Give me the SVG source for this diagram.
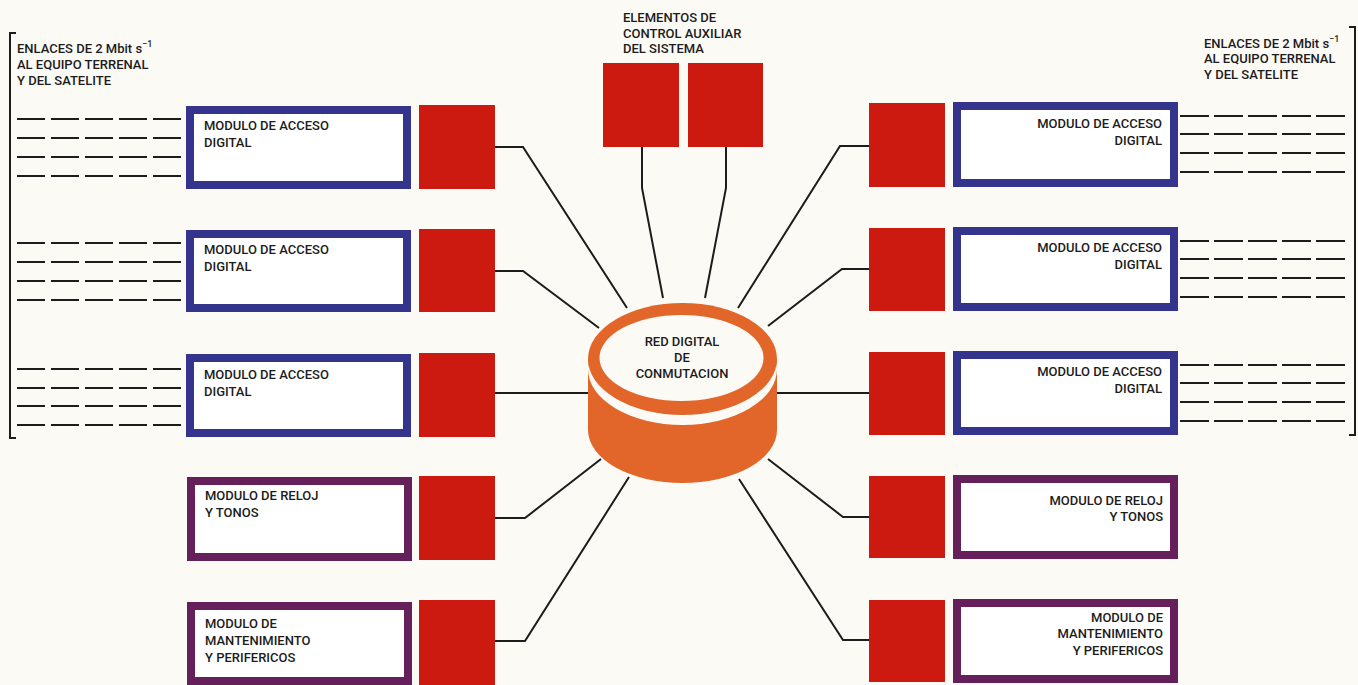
<svg xmlns="http://www.w3.org/2000/svg" width="1358" height="685" viewBox="0 0 1358 685">
  <defs>
    <style>
      .bg { fill: #fbfaf5; }
      .txt { font-family: Roboto, "Liberation Sans", Arial, sans-serif; font-weight: 500; font-size: 13px; fill: #1c1c1c; }
      .sup { font-size: 9px; }
      .end { text-anchor: end; }
      .acc { fill: #ffffff; stroke: #34348c; stroke-width: 8; }
      .aux { fill: #ffffff; stroke: #651f5b; stroke-width: 8; }
      .port { fill: #cc1a10; }
      .wire { fill: none; stroke: #1c1c1c; stroke-width: 2; stroke-linejoin: miter; }
      .link { stroke: #1c1c1c; stroke-width: 2.2; }
      .linkL { stroke-dasharray: 28 6; }
      .linkR { stroke-dasharray: 29 5; }
      .orange { fill: #e2662a; }
    </style>
  </defs>

  <rect class="bg" x="0" y="0" width="1358" height="685"/>

  <!-- headers -->
  <g id="header-left">
    <path class="wire" d="M16,33 H10 V438 H16"/>
    <text class="txt" x="17" y="53">ENLACES DE 2 Mbit s<tspan class="sup" dy="-6">−1</tspan></text>
    <text class="txt" x="17" y="69">AL EQUIPO TERRENAL</text>
    <text class="txt" x="17" y="85">Y DEL SATELITE</text>
  </g>
  <g id="header-right">
    <path class="wire" d="M1349,27 H1355 V435 H1349"/>
    <text class="txt" x="1204" y="48">ENLACES DE 2 Mbit s<tspan class="sup" dy="-6">−1</tspan></text>
    <text class="txt" x="1204" y="63">AL EQUIPO TERRENAL</text>
    <text class="txt" x="1204" y="79">Y DEL SATELITE</text>
  </g>

  <!-- 2 Mbit/s link bundles -->
  <g id="links">
    <g class="link linkL">
      <line x1="17" y1="119" x2="183" y2="119"/>
      <line x1="17" y1="138" x2="183" y2="138"/>
      <line x1="17" y1="157" x2="183" y2="157"/>
      <line x1="17" y1="176" x2="183" y2="176"/>
      <line x1="17" y1="243" x2="183" y2="243"/>
      <line x1="17" y1="262" x2="183" y2="262"/>
      <line x1="17" y1="281" x2="183" y2="281"/>
      <line x1="17" y1="300" x2="183" y2="300"/>
      <line x1="17" y1="369" x2="183" y2="369"/>
      <line x1="17" y1="388" x2="183" y2="388"/>
      <line x1="17" y1="406" x2="183" y2="406"/>
      <line x1="17" y1="425" x2="183" y2="425"/>
    </g>
    <g class="link linkR">
      <line x1="1180" y1="116" x2="1346" y2="116"/>
      <line x1="1180" y1="134" x2="1346" y2="134"/>
      <line x1="1180" y1="153" x2="1346" y2="153"/>
      <line x1="1180" y1="172" x2="1346" y2="172"/>
      <line x1="1180" y1="241" x2="1346" y2="241"/>
      <line x1="1180" y1="259" x2="1346" y2="259"/>
      <line x1="1180" y1="278" x2="1346" y2="278"/>
      <line x1="1180" y1="297" x2="1346" y2="297"/>
      <line x1="1180" y1="365" x2="1346" y2="365"/>
      <line x1="1180" y1="383" x2="1346" y2="383"/>
      <line x1="1180" y1="402" x2="1346" y2="402"/>
      <line x1="1180" y1="421" x2="1346" y2="421"/>
    </g>
  </g>

  <!-- connectors to the switching network -->
  <g id="connectors">
    <path class="wire" d="M495,147 H523 L627,308"/>
    <path class="wire" d="M495,271 H523 L599,328"/>
    <path class="wire" d="M495,393 H590"/>
    <path class="wire" d="M495,518 H525 L601,459"/>
    <path class="wire" d="M495,641 H525 L629,477"/>
    <path class="wire" d="M642,147 V188 L663,298"/>
    <path class="wire" d="M726,147 V188 L705,298"/>
    <path class="wire" d="M869,146 H840 L738,308"/>
    <path class="wire" d="M869,269 H842 L768,326"/>
    <path class="wire" d="M869,393 H775"/>
    <path class="wire" d="M869,517 H843 L768,459"/>
    <path class="wire" d="M869,640 H843 L739,479"/>
  </g>

  <!-- auxiliary control elements -->
  <g id="aux-control">
    <text class="txt" x="623" y="22">ELEMENTOS DE</text>
    <text class="txt" x="623" y="38">CONTROL AUXILIAR</text>
    <text class="txt" x="623" y="53">DEL SISTEMA</text>
    <rect class="port" x="603" y="63" width="76" height="84"/>
    <rect class="port" x="688" y="63" width="75" height="84"/>
  </g>

  <!-- central switching network drum -->
  <g id="red-digital">
    <path class="orange" d="M588,360 V430 A94.5,53 0 0 0 777,430 V360 Z"/>
    <ellipse cx="682.5" cy="369" rx="94.5" ry="56" fill="#fbfaf5"/>
    <ellipse class="orange" cx="682.5" cy="359" rx="94.5" ry="56"/>
    <ellipse cx="681.5" cy="358" rx="82" ry="43" fill="#fbfaf5"/>
    <text class="txt" x="682" y="346" text-anchor="middle">RED DIGITAL</text>
    <text class="txt" x="682" y="362" text-anchor="middle">DE</text>
    <text class="txt" x="682" y="378" text-anchor="middle">CONMUTACION</text>
  </g>

  <!-- left modules -->
  <g id="left-acceso-1">
    <rect class="acc" x="190" y="110" width="217" height="75"/>
    <rect class="port" x="419" y="105" width="76" height="84"/>
    <text class="txt" x="204" y="130">MODULO DE ACCESO</text>
    <text class="txt" x="204" y="147">DIGITAL</text>
  </g>
  <g id="left-acceso-2">
    <rect class="acc" x="190" y="234" width="217" height="74"/>
    <rect class="port" x="419" y="229" width="76" height="83"/>
    <text class="txt" x="204" y="254">MODULO DE ACCESO</text>
    <text class="txt" x="204" y="271">DIGITAL</text>
  </g>
  <g id="left-acceso-3">
    <rect class="acc" x="190" y="358" width="217" height="75"/>
    <rect class="port" x="419" y="353" width="76" height="84"/>
    <text class="txt" x="204" y="379">MODULO DE ACCESO</text>
    <text class="txt" x="204" y="396">DIGITAL</text>
  </g>
  <g id="left-reloj">
    <rect class="aux" x="191" y="481" width="217" height="76"/>
    <rect class="port" x="419" y="476" width="76" height="84"/>
    <text class="txt" x="205" y="500">MODULO DE RELOJ</text>
    <text class="txt" x="205" y="517">Y TONOS</text>
  </g>
  <g id="left-mantenimiento">
    <rect class="aux" x="191" y="606" width="217" height="75"/>
    <rect class="port" x="419" y="600" width="76" height="85"/>
    <text class="txt" x="205" y="628">MODULO DE</text>
    <text class="txt" x="205" y="645">MANTENIMIENTO</text>
    <text class="txt" x="205" y="662">Y PERIFERICOS</text>
  </g>

  <!-- right modules -->
  <g id="right-acceso-1">
    <rect class="port" x="869" y="103" width="76" height="84"/>
    <rect class="acc" x="957" y="106" width="217" height="77"/>
    <text class="txt end" x="1162" y="128">MODULO DE ACCESO</text>
    <text class="txt end" x="1162" y="145">DIGITAL</text>
  </g>
  <g id="right-acceso-2">
    <rect class="port" x="869" y="228" width="76" height="83"/>
    <rect class="acc" x="957" y="231" width="217" height="76"/>
    <text class="txt end" x="1162" y="252">MODULO DE ACCESO</text>
    <text class="txt end" x="1162" y="269">DIGITAL</text>
  </g>
  <g id="right-acceso-3">
    <rect class="port" x="869" y="352" width="76" height="83"/>
    <rect class="acc" x="957" y="355" width="217" height="76"/>
    <text class="txt end" x="1162" y="376">MODULO DE ACCESO</text>
    <text class="txt end" x="1162" y="393">DIGITAL</text>
  </g>
  <g id="right-reloj">
    <rect class="port" x="869" y="476" width="76" height="82"/>
    <rect class="aux" x="957" y="479" width="217" height="76"/>
    <text class="txt end" x="1163" y="505">MODULO DE RELOJ</text>
    <text class="txt end" x="1163" y="521">Y TONOS</text>
  </g>
  <g id="right-mantenimiento">
    <rect class="port" x="869" y="600" width="76" height="82"/>
    <rect class="aux" x="957" y="603" width="217" height="76"/>
    <text class="txt end" x="1163" y="622">MODULO DE</text>
    <text class="txt end" x="1163" y="638">MANTENIMIENTO</text>
    <text class="txt end" x="1163" y="655">Y PERIFERICOS</text>
  </g>
</svg>
